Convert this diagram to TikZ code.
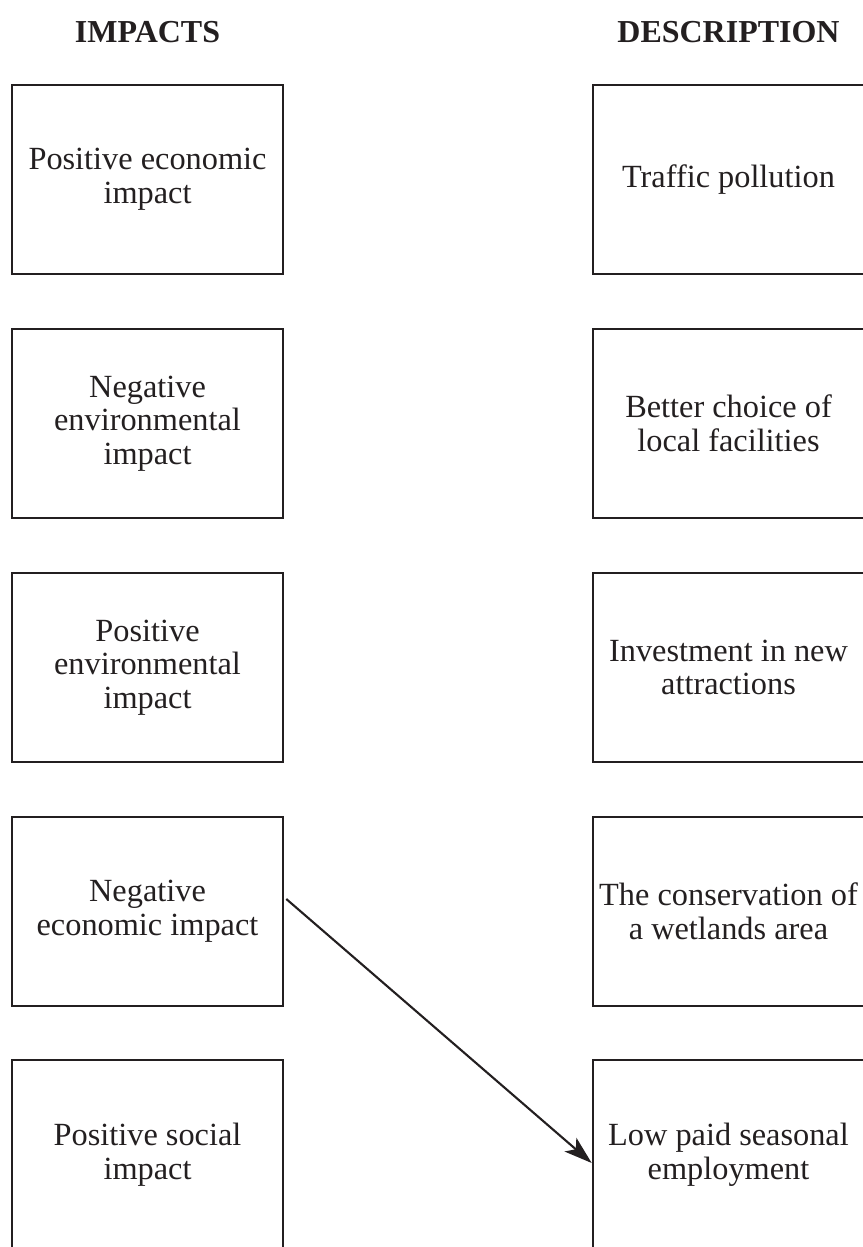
\documentclass[tikz,border=0pt]{standalone}
\usepackage{fontspec}
\setmainfont{Liberation Serif}
\usepackage{xcolor}
\definecolor{sheetInk}{HTML}{231F20}
\usetikzlibrary{arrows.meta,calc,positioning}

\begin{document}
\begin{tikzpicture}[x=0.02cm,y=-0.02cm]
  \tikzset{
    cardbox/.style={
      draw=sheetInk,
      line width=1.5pt,
      minimum width=5.42cm,
      minimum height=3.78cm,
      inner sep=0pt,
      align=center,
      text=sheetInk,
      font=\fontsize{18.4}{19.2}\selectfont,
    },
    heading/.style={
      anchor=base,
      inner sep=0pt,
      text=sheetInk,
      font=\fontsize{18.2}{18.6}\selectfont\bfseries,
    },
  }

  \path[use as bounding box] (0,0) rectangle (862,1247);

  \node[heading] (impHead) at (147.5,43) {IMPACTS};
  \node[heading] (descHead) at (728.5,43) {DESCRIPTION};

  % Left column: the impacts.
  \node[cardbox] (imp1) at (147.5,179.5) {Positive economic\\impact};
  \node[cardbox] (imp2) at (147.5,423.5) {Negative\\environmental\\impact};
  \node[cardbox] (imp3) at (147.5,667.5) {Positive\\environmental\\impact};
  \node[cardbox] (imp4) at (147.5,911.5) {Negative\\economic impact};
  \node[cardbox] (imp5) at (147.5,1154.5) {Positive social\\impact};

  % Right column: the descriptions.
  \node[cardbox] (desc1) at (728.5,179.5) {Traffic pollution};
  \node[cardbox] (desc2) at (728.5,423.5) {Better choice of\\local facilities};
  \node[cardbox] (desc3) at (728.5,667.5) {Investment in new\\attractions};
  \node[cardbox] (desc4) at (728.5,911.5) {The conservation of\\a wetlands area};
  \node[cardbox] (desc5) at (728.5,1154.5) {Low paid seasonal\\employment};

  \draw[sheetInk,line width=1.2pt,-{Stealth[length=0.56cm,width=0.36cm,inset=0.14cm]}]
    ([xshift=0.04cm,yshift=0.25cm]imp4.east) -- ([yshift=-0.17cm]desc5.west);
\end{tikzpicture}
\end{document}
